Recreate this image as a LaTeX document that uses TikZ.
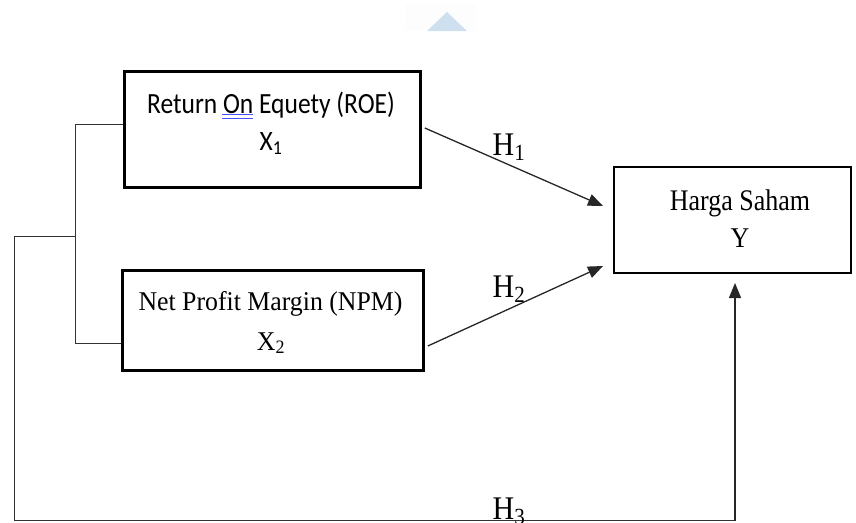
\documentclass[tikz,border=0pt]{standalone}
\usepackage{fontspec}
\usepackage{graphicx}
\setmainfont{Liberation Serif}
\newfontfamily\calfont{Carlito}
\newcommand\ysc[2]{\scalebox{1}[#1]{#2}}
\usetikzlibrary{arrows.meta,calc}
\definecolor{wmark}{RGB}{206,224,239}
\tikzset{
  box/.style={draw=black, line width=2.6pt, rectangle, inner sep=0pt},
  conn/.style={draw=black!80, line width=1pt},
  arr/.style={draw=black!85, line width=1.3pt, -{Triangle[length=15pt,width=12pt]}},
  lab/.style={inner sep=0pt, anchor=base},
  hlab/.style={inner sep=0pt, anchor=base, font=\fontsize{30}{34}\selectfont},
}
\begin{document}
\begin{tikzpicture}[x=1pt,y=-1pt]
\useasboundingbox (0,0) rectangle (856,522);
% faint watermark triangle
\fill[black!0.7] (405,4) rectangle (476,30);
\fill[wmark] (427,31) -- (447,12) -- (467,31) -- cycle;
% boxes
\node[box, minimum width=296pt, minimum height=116pt] (roe) at (272.5,129.5) {};
\node[box, minimum width=301pt, minimum height=100pt] (npm) at (273,320.5) {};
\node[box, minimum width=237pt, minimum height=106pt] (hs) at (732.5,220) {};
% texts
\node[lab, font=\calfont\fontsize{25.5}{30}\selectfont] (roet) at (271,113) {\ysc{1.15}{Return On Equety (ROE)}};
\node[lab, font=\calfont\fontsize{25.5}{30}\selectfont] (roex) at (271,150) {\ysc{1.1}{X\textsubscript{1}}};
\draw[blue!70, line width=0.9pt] (222,114.5) -- (253,114.5);
\draw[blue!70, line width=0.9pt] (222,118) -- (253,118);
\node[lab, font=\fontsize{25.8}{30}\selectfont] (npmt) at (270.5,310) {\ysc{1.05}{Net Profit Margin (NPM)}};
\node[lab, font=\fontsize{25.8}{30}\selectfont] (npmx) at (271,350) {\ysc{1.05}{X\textsubscript{2}}};
\node[lab, font=\fontsize{26}{30}\selectfont] (hst) at (740,210) {\ysc{1.15}{Harga Saham}};
\node[lab, font=\fontsize{26}{30}\selectfont] (hsy) at (740,247) {\ysc{1.1}{Y}};
% left bracket
\coordinate (j1) at (75,124);
\coordinate (j2) at (75,343);
\coordinate (j) at (75,236);
\coordinate (c1) at (14,236);
\coordinate (c2) at (14,520.5);
\coordinate (c3) at (735,520.5);
\coordinate (t1) at (603,206);
\coordinate (t2) at (603,266);
\coordinate (t3) at (735,283);
\draw[conn] (roe.west |- j1) -- (j1) -- (j2) -- (npm.west |- j2);
\draw[conn] (j) -- (c1) -- (c2) -- (c3);
\draw[arr] (c3) -- (t3);
% hypothesis arrows
\draw[arr] (roe.east |- 0,128) ++(3,0) -- (t1);
\draw[arr] (npm.east |- 0,346) ++(3,0) -- (t2);
% labels
\node[hlab] (h1) at (509,155) {\ysc{1.1}{H\textsubscript{1}}};
\node[hlab] (h2) at (509,297) {\ysc{1.1}{H\textsubscript{2}}};
\node[hlab] (h3) at (509,519) {\ysc{1.1}{H\textsubscript{3}}};
\end{tikzpicture}
\end{document}
